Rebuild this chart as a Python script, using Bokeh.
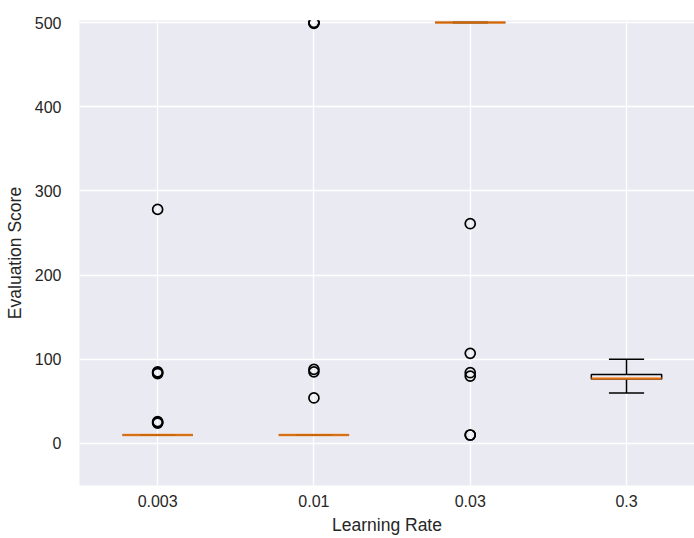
from bokeh.plotting import figure
from bokeh.models import FixedTicker, Range1d
from bokeh.embed import file_html
from bokeh.resources import INLINE

categories = ["0.003", "0.01", "0.03", "0.3"]
q1 = [10, 10, 500, 76.5]
median = [10, 10, 500, 77]
q3 = [10, 10, 500, 82]
whisker_lo = [10, 10, 500, 60]
whisker_hi = [10, 10, 500, 100]
outliers = [
    [278, 85, 84, 83, 26, 25, 24],
    [500, 500, 499, 88, 85, 54],
    [261, 107, 84, 80, 10, 10],
    [],
]
y_ticks = [0, 100, 200, 300, 400, 500]

pos = [i + 1 for i in range(len(categories))]
box_w = 0.45
cap_w = box_w / 2

p = figure(width=694, height=538, output_backend="svg", toolbar_location=None,
           x_range=Range1d(0.5, 4.435), y_range=Range1d(-50, 502.4),
           min_border_left=79, min_border_right=0, min_border_top=20, min_border_bottom=53)

p.background_fill_color = "#eaeaf2"
p.border_fill_color = "white"
p.outline_line_color = None
for g in (p.xgrid, p.ygrid):
    g.grid_line_color = "white"
    g.grid_line_width = 1.3

font = "Liberation Sans"
txt = "#262626"
for ax in (p.xaxis, p.yaxis):
    ax.axis_line_color = None
    ax.major_tick_line_color = None
    ax.minor_tick_line_color = None
    ax.major_label_text_font = font
    ax.major_label_text_font_size = "16px"
    ax.major_label_text_color = txt
    ax.axis_label_text_font = font
    ax.axis_label_text_font_size = "17.5px"
    ax.axis_label_text_font_style = "normal"
    ax.axis_label_text_color = txt

p.xaxis.ticker = FixedTicker(ticks=pos)
p.xaxis.major_label_overrides = {pp: c for pp, c in zip(pos, categories)}
p.xaxis.major_label_standoff = 3
p.xaxis.axis_label = "Learning Rate"
p.xaxis.axis_label_standoff = 5
p.yaxis.ticker = FixedTicker(ticks=y_ticks)
p.yaxis.major_label_standoff = 12
p.yaxis.axis_label = "Evaluation Score"
p.yaxis.axis_label_standoff = 7

# boxes
p.quad(left=[x - box_w / 2 for x in pos], right=[x + box_w / 2 for x in pos],
       bottom=q1, top=q3, fill_alpha=0, line_color="black", line_width=1.5)
# whiskers
p.segment(x0=pos, y0=q3, x1=pos, y1=whisker_hi, line_color="black", line_width=1.5)
p.segment(x0=pos, y0=q1, x1=pos, y1=whisker_lo, line_color="black", line_width=1.5)
# caps
p.segment(x0=[x - cap_w / 2 for x in pos], y0=whisker_hi, x1=[x + cap_w / 2 for x in pos],
          y1=whisker_hi, line_color="black", line_width=1.5)
p.segment(x0=[x - cap_w / 2 for x in pos], y0=whisker_lo, x1=[x + cap_w / 2 for x in pos],
          y1=whisker_lo, line_color="black", line_width=1.5)
# medians
p.segment(x0=[x - box_w / 2 for x in pos], y0=median, x1=[x + box_w / 2 for x in pos],
          y1=median, line_color="#ff7f0e", line_width=2.5, line_alpha=0.8)

ox, oy = [], []
for x, vals in zip(pos, outliers):
    for v in vals:
        ox.append(x)
        oy.append(v)
p.scatter(x=ox, y=oy, marker="circle", size=10, fill_alpha=0, line_color="black", line_width=1.7)

open("out.html", "w").write(file_html(p, INLINE))
